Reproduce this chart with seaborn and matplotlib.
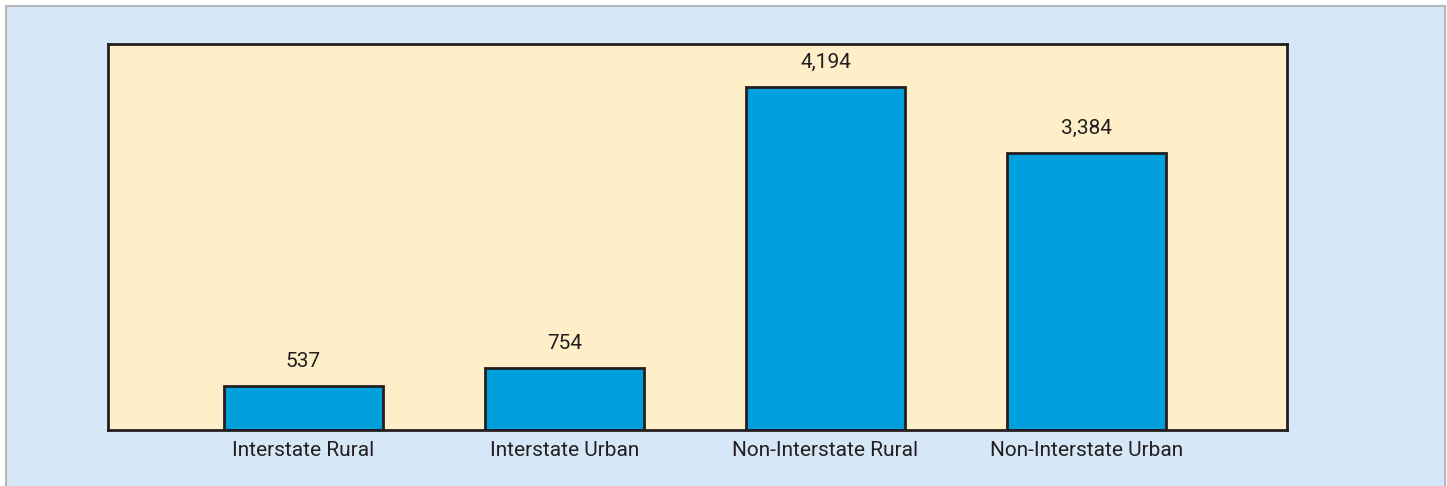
import matplotlib
matplotlib.use("Agg")
import matplotlib.pyplot as plt
import seaborn as sns
import pandas as pd
from matplotlib.patches import Rectangle

categories = ["Interstate Rural", "Interstate Urban", "Non-Interstate Rural", "Non-Interstate Urban"]
values = [537, 754, 4194, 3384]
value_labels = ["537", "754", "4,194", "3,384"]

sns.set_theme(style="white")
plt.rcParams['font.family'] = ['Roboto', 'DejaVu Sans']

W, H = 1447, 486
fig = plt.figure(figsize=(W / 100, H / 100), dpi=100, facecolor="white")

# outer light-blue panel with gray border
panel = Rectangle((6 / W, -0.05), (1445 - 6) / W, (H - 6) / H + 0.05,
                  transform=fig.transFigure, facecolor="#d6e8f7",
                  edgecolor="#b4b8bc", linewidth=1.5, zorder=-10)
fig.patches.append(panel)

ax = fig.add_axes([108 / W, 1 - 430 / H, (1287 - 108) / W, (430 - 44) / H])
ax.set_zorder(5)
ax.set_facecolor("#feefc8")

df = pd.DataFrame({"category": categories, "value": values})
sns.barplot(data=df, x="category", y="value", ax=ax, color="#00a0de",
            saturation=1, width=0.61, edgecolor="#231f20", linewidth=2)

for i, (v, lab) in enumerate(zip(values, value_labels)):
    ax.annotate(lab, (i, v), xytext=(0, 11), textcoords="offset points",
                ha="center", va="bottom", fontsize=15, color="#231f20",
                fontstretch="condensed")

ax.set_xlim(-0.749, 3.768)
ax.set_ylim(0, 4720)
ax.set_xlabel("")
ax.set_ylabel("")
ax.set_yticks([])
ax.tick_params(axis="x", length=0, pad=8, labelsize=15, labelcolor="#231f20")
for s in ax.spines.values():
    s.set_visible(True)
    s.set_color("#231f20")
    s.set_linewidth(2)

fig.savefig("out.png", dpi=100, facecolor=fig.get_facecolor())
